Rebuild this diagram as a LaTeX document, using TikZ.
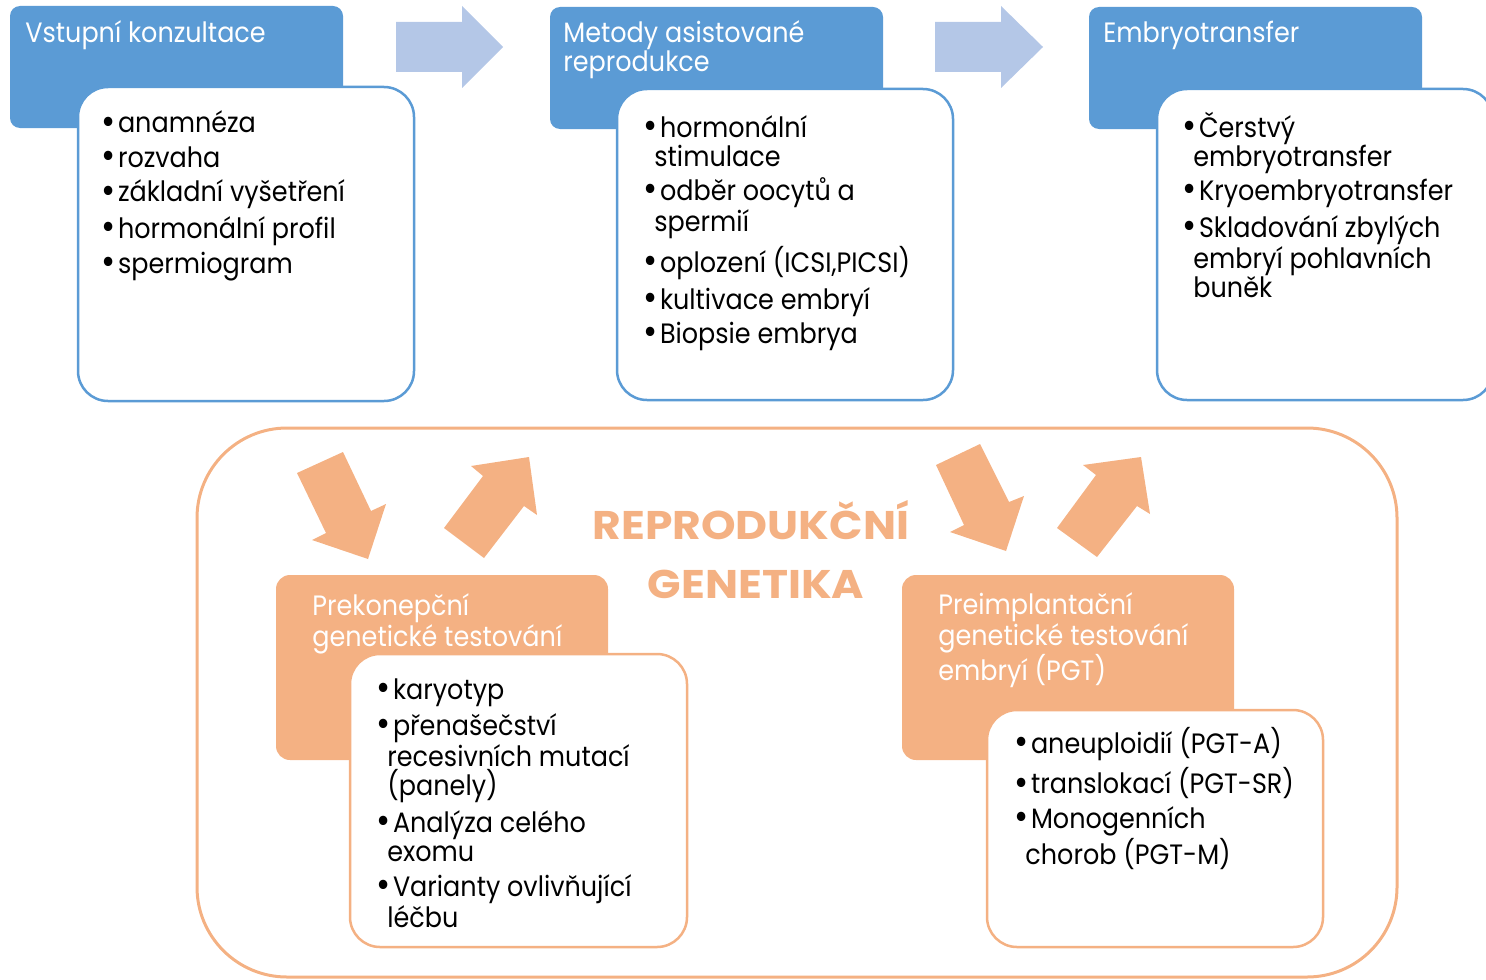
\documentclass[tikz,border=0pt]{standalone}
\usepackage{fontspec}
\setmainfont{Poppins}[FakeStretch=0.91]
\newfontfamily\titlefont{Poppins}[FakeStretch=1.1]
\definecolor{hblue}{HTML}{5B9BD5}
\definecolor{lblue}{HTML}{B4C7E7}
\definecolor{orng}{HTML}{F4B183}
\newcommand\bitem[1]{\par\hangindent=5.5pt\hangafter=1\makebox[8.3pt][l]{\raisebox{-0.6pt}{\scalebox{1.35}{\textbullet}}}#1}
\newcommand\blist[1]{\begin{minipage}[t]{260pt}\parindent=0pt\parskip=2.75pt\fontsize{14}{14.5}\selectfont #1\end{minipage}}
\newcommand\hlist[1]{\begin{minipage}[t]{200pt}\parindent=0pt\parskip=0pt\fontsize{14}{14.3}\selectfont #1\end{minipage}}
\tikzset{
  hdrtext/.style={anchor=base west,inner sep=0pt,text=white},
  listtext/.style={anchor=base west,inner sep=0pt,text=black},
  titletext/.style={anchor=base,inner sep=0pt,text=orng,font=\titlefont\bfseries\fontsize{20}{24}\selectfont},
  bluehdr/.style={fill=hblue,rounded corners=5pt},
  bluebox/.style={fill=white,draw=hblue,line width=1.25pt,rounded corners=15pt},
  orhdr/.style={fill=orng,rounded corners=7pt},
  orbox/.style={fill=white,draw=orng,line width=1.25pt,rounded corners=15pt},
  flowarrow/.style={fill=lblue},
  orarrow/.style={fill=orng},
}
\begin{document}
\begin{tikzpicture}[x=0.5pt,y=-0.5pt]
\useasboundingbox (0,0) rectangle (1486,979);
\clip (0,0) rectangle (1486,979);
% big frame
\draw[draw=orng,line width=1.5pt,rounded corners=45pt] (197,428) rectangle (1397,977);
% flow arrows
\fill[flowarrow] (396,22) -- (462,22) -- (462,6) -- (503,47) -- (462,88) -- (462,72) -- (396,72) -- cycle;
\fill[flowarrow] (935,22) -- (1001,22) -- (1001,6) -- (1043,47) -- (1001,88) -- (1001,72) -- (935,72) -- cycle;
% orange arrows
\fill[orarrow] (297,473) -- (343,452) -- (371,511) -- (386,504) -- (368,559) -- (312,540) -- (326,533) -- cycle;
\fill[orarrow] (444,528) -- (483,476) -- (471,466) -- (529,457) -- (537,515) -- (524,506) -- (484,558) -- cycle;
\fill[orarrow] (936,465) -- (980,444) -- (1009,502) -- (1024,496) -- (1006,551) -- (950,532) -- (964,525) -- cycle;
\fill[orarrow] (1057,528) -- (1096,475) -- (1083,465) -- (1141,457) -- (1150,514) -- (1137,506) -- (1097,557) -- cycle;
% top headers and boxes
\path[bluehdr] (10,6) rectangle (343,128);
\path[bluehdr] (550,7) rectangle (883,129);
\path[bluehdr] (1089,7) rectangle (1422,129);
\path[bluebox] (78,87) rectangle (414,401);
\path[bluebox] (617,89) rectangle (953,400);
\path[bluebox] (1157,89) rectangle (1493,400);
% bottom headers and boxes
\path[orhdr] (276,575) rectangle (608,760);
\path[orhdr] (902,575) rectangle (1234,760);
\path[orbox] (350,654) rectangle (687,947);
\path[orbox] (987,710) rectangle (1323,947);
% header texts
\node[hdrtext] (h1) at (25,43) {\hlist{Vstupní konzultace}};
\node[hdrtext] (h2) at (563,43) {\hlist{Metody asistované\\reprodukce}};
\node[hdrtext] (h3) at (1103,43) {\hlist{Embryotransfer}};
\node[hdrtext] (h4) at (312,615) {\hlist{Prekonepční\\genetické testování}};
\node[hdrtext] (h5) at (938,614) {\hlist{Preimplantační\\genetické testování\\embryí (PGT)}};
% list texts
\node[listtext] (l1) at (101,133) {\blist{\bitem{anamnéza}\bitem{rozvaha}\bitem{základní vyšetření}\bitem{hormonální profil}\bitem{spermiogram}}};
\node[listtext] (l2) at (643,137) {\blist{\bitem{hormonální\newline stimulace}\bitem{odběr oocytů a\newline spermií}\bitem{oplození (ICSI,PICSI)}\bitem{kultivace embryí}\bitem{Biopsie embrya}}};
\node[listtext] (l3) at (1182,137) {\blist{\bitem{Čerstvý\newline embryotransfer}\bitem{Kryoembryotransfer}\bitem{Skladování zbylých\newline embryí pohlavních\newline buněk}}};
\node[listtext] (l4) at (376,699) {\blist{\bitem{karyotyp}\bitem{přenašečství\newline recesivních mutací\newline (panely)}\bitem{Analýza celého\newline exomu}\bitem{Varianty ovlivňující\newline léčbu}}};
\node[listtext] (l5) at (1014,753) {\blist{\bitem{aneuploidií (PGT-A)}\bitem{translokací (PGT-SR)}\bitem{Monogenních\newline chorob (PGT-M)}}};
% title
\node[titletext] (t1) at (751,539) {REPRODUKČNÍ};
\node[titletext] (t2) at (756,598) {GENETIKA};
\end{tikzpicture}
\end{document}
